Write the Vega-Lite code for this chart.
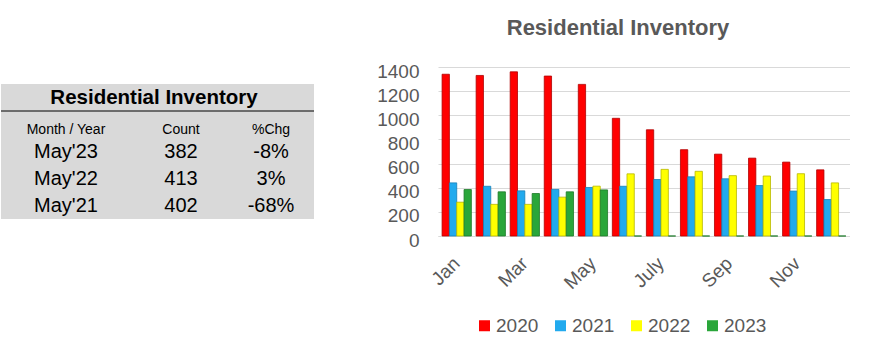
{
  "$schema": "https://vega.github.io/schema/vega-lite/v6.json",
  "padding": {"left": 0, "top": 17, "right": 0, "bottom": 0},
  "autosize": {"type": "pad"},
  "background": "white",
  "bounds": "flush",
  "center": true,
  "spacing": 124,
  "resolve": {"legend": {"color": "independent", "stroke": "independent"}, "scale": {"color": "independent", "stroke": "independent"}},
  "config": {"font": "Liberation Sans", "view": {"stroke": null}},
  "datasets": {
    "table": [
      {"Month": "May'23", "Count": 382, "Chg": "-8%"},
      {"Month": "May'22", "Count": 413, "Chg": "3%"},
      {"Month": "May'21", "Count": 402, "Chg": "-68%"}
    ],
    "headers": [
      {"col": "Month / Year"},
      {"col": "Count"},
      {"col": "%Chg"}
    ],
    "inv": [
      {"month": "Jan", "year": "2020", "count": 1340},
      {"month": "Jan", "year": "2021", "count": 440},
      {"month": "Jan", "year": "2022", "count": 280},
      {"month": "Jan", "year": "2023", "count": 385},
      {"month": "Feb", "year": "2020", "count": 1330},
      {"month": "Feb", "year": "2021", "count": 412},
      {"month": "Feb", "year": "2022", "count": 262},
      {"month": "Feb", "year": "2023", "count": 366},
      {"month": "Mar", "year": "2020", "count": 1360},
      {"month": "Mar", "year": "2021", "count": 374},
      {"month": "Mar", "year": "2022", "count": 262},
      {"month": "Mar", "year": "2023", "count": 352},
      {"month": "Apr", "year": "2020", "count": 1325},
      {"month": "Apr", "year": "2021", "count": 386},
      {"month": "Apr", "year": "2022", "count": 322},
      {"month": "Apr", "year": "2023", "count": 366},
      {"month": "May", "year": "2020", "count": 1256},
      {"month": "May", "year": "2021", "count": 402},
      {"month": "May", "year": "2022", "count": 413},
      {"month": "May", "year": "2023", "count": 382},
      {"month": "June", "year": "2020", "count": 975},
      {"month": "June", "year": "2021", "count": 412},
      {"month": "June", "year": "2022", "count": 515},
      {"month": "June", "year": "2023", "count": 0},
      {"month": "July", "year": "2020", "count": 880},
      {"month": "July", "year": "2021", "count": 468},
      {"month": "July", "year": "2022", "count": 552},
      {"month": "July", "year": "2023", "count": 0},
      {"month": "Aug", "year": "2020", "count": 715},
      {"month": "Aug", "year": "2021", "count": 490},
      {"month": "Aug", "year": "2022", "count": 536},
      {"month": "Aug", "year": "2023", "count": 0},
      {"month": "Sep", "year": "2020", "count": 678},
      {"month": "Sep", "year": "2021", "count": 474},
      {"month": "Sep", "year": "2022", "count": 500},
      {"month": "Sep", "year": "2023", "count": 0},
      {"month": "Oct", "year": "2020", "count": 645},
      {"month": "Oct", "year": "2021", "count": 418},
      {"month": "Oct", "year": "2022", "count": 497},
      {"month": "Oct", "year": "2023", "count": 0},
      {"month": "Nov", "year": "2020", "count": 612},
      {"month": "Nov", "year": "2021", "count": 372},
      {"month": "Nov", "year": "2022", "count": 516},
      {"month": "Nov", "year": "2023", "count": 0},
      {"month": "Dec", "year": "2020", "count": 548},
      {"month": "Dec", "year": "2021", "count": 302},
      {"month": "Dec", "year": "2022", "count": 440},
      {"month": "Dec", "year": "2023", "count": 0}
    ]
  },
  "hconcat": [
    {
      "width": 313,
      "height": 135,
      "view": {"fill": "#d9d9d9", "stroke": null},
      "layer": [
        {
          "data": {"values": [{"t": "Residential Inventory"}]},
          "mark": {"type": "text", "fontSize": 20.5, "fontWeight": "bold", "color": "black", "dx": -3.5, "baseline": "middle"},
          "encoding": {
            "y": {"datum": "title", "type": "nominal", "scale": {"type": "band", "domain": ["title", "header", "May'23", "May'22", "May'21"], "paddingInner": 0, "paddingOuter": 0}, "axis": null},
            "text": {"field": "t"}
          }
        },
        {
          "data": {"values": [{"t": "Residential Inventory"}]},
          "mark": {"type": "rule", "color": "black", "strokeWidth": 1},
          "encoding": {
            "y": {"datum": "header", "type": "nominal", "bandPosition": 0}
          }
        },
        {
          "data": {"name": "headers"},
          "transform": [{"filter": "datum.col !== 'Count'"}],
          "mark": {"type": "text", "fontSize": 14, "color": "black", "dy": 5.5, "baseline": "middle"},
          "encoding": {
            "x": {"field": "col", "type": "nominal", "scale": {"type": "point", "domain": ["Month / Year", "Count", "%Chg"], "range": [65, 270], "padding": 0}, "axis": null},
            "y": {"datum": "header", "type": "nominal"},
            "text": {"field": "col"}
          }
        },
        {
          "data": {"name": "headers"},
          "transform": [{"filter": "datum.col === 'Count'"}],
          "mark": {"type": "text", "fontSize": 14, "color": "black", "dy": 5.5, "dx": 12.5, "baseline": "middle"},
          "encoding": {
            "x": {"field": "col", "type": "nominal"},
            "y": {"datum": "header", "type": "nominal"},
            "text": {"field": "col"}
          }
        },
        {
          "data": {"name": "table"},
          "mark": {"type": "text", "fontSize": 20, "color": "black", "baseline": "middle"},
          "encoding": {
            "x": {"datum": "Month / Year", "type": "nominal"},
            "y": {"field": "Month", "type": "nominal"},
            "text": {"field": "Month"}
          }
        },
        {
          "data": {"name": "table"},
          "mark": {"type": "text", "fontSize": 20, "color": "black", "baseline": "middle", "dx": 12.5},
          "encoding": {
            "x": {"datum": "Count", "type": "nominal"},
            "y": {"field": "Month", "type": "nominal"},
            "text": {"field": "Count"}
          }
        },
        {
          "data": {"name": "table"},
          "mark": {"type": "text", "fontSize": 20, "color": "black", "baseline": "middle"},
          "encoding": {
            "x": {"datum": "%Chg", "type": "nominal"},
            "y": {"field": "Month", "type": "nominal"},
            "text": {"field": "Chg"}
          }
        }
      ]
    },
    {
      "width": 412,
      "height": 169,
      "title": {"text": "Residential Inventory", "fontSize": 22, "fontWeight": "bold", "color": "#595959", "frame": "group", "anchor": "middle", "dx": -26, "offset": 22},
      "data": {"name": "inv"},
      "mark": {"type": "bar", "strokeWidth": 0.8},
      "encoding": {
        "x": {
          "field": "month", "type": "ordinal",
          "sort": ["Jan", "Feb", "Mar", "Apr", "May", "June", "July", "Aug", "Sep", "Oct", "Nov", "Dec"],
          "scale": {"paddingInner": 0.14, "paddingOuter": 0.12},
          "axis": {"values": ["Jan", "Mar", "May", "July", "Sep", "Nov"], "labelAngle": -45, "labelAlign": "right", "labelBaseline": "middle", "labelFontSize": 19, "labelColor": "#595959", "ticks": false, "tickSize": 0, "domainColor": "#d9d9d9", "title": null, "labelPadding": 24}
        },
        "xOffset": {"field": "year", "type": "nominal"},
        "y": {
          "field": "count", "type": "quantitative",
          "scale": {"domain": [0, 1400]},
          "axis": {"values": [0, 200, 400, 600, 800, 1000, 1200, 1400], "format": "d", "labelFontSize": 19, "labelColor": "#595959", "labelOffset": 4, "domain": false, "ticks": false, "tickSize": 0, "gridColor": "#d9d9d9", "labelPadding": 19, "title": null}
        },
        "color": {
          "field": "year", "type": "nominal",
          "scale": {"domain": ["2020", "2021", "2022", "2023"], "range": ["#ff0000", "#22aaee", "#ffff00", "#2aa63a"]},
          "legend": {"orient": "none", "legendX": 37, "legendY": 249, "direction": "horizontal", "title": null, "symbolType": "square", "symbolSize": 121, "symbolStrokeWidth": 0, "labelFontSize": 19, "labelColor": "#595959", "columnPadding": 12, "labelOffset": 2}
        },
        "stroke": {
          "field": "year", "type": "nominal",
          "scale": {"domain": ["2020", "2021", "2022", "2023"], "range": ["#b00000", "#1680b8", "#b8b800", "#1d7a29"]},
          "legend": null
        }
      }
    }
  ]
}
